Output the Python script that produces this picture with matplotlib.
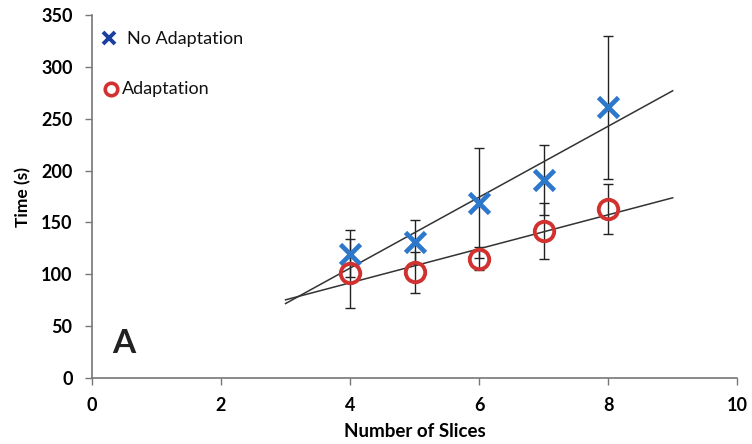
import numpy as np
import matplotlib
matplotlib.use('Agg')
import matplotlib.pyplot as plt

# Datos
slices = [4, 5, 6, 7, 8]
no_adapt = [120, 131, 169, 191, 261]
no_adapt_err = [23, 21, 53, 34, 69]
adapt = [101, 102, 115, 142, 163]
adapt_err = [33, 20, 11, 27, 24]
x_ticks = [0, 2, 4, 6, 8, 10]
y_ticks = [0, 50, 100, 150, 200, 250, 300, 350]
trend_range = [3, 9]

plt.rcParams['font.family'] = ['Lato', 'DejaVu Sans']

fig = plt.figure(figsize=(7.52, 4.44), dpi=100)
ax = fig.add_axes([0.1223, 0.1486, 0.858, 0.8174])

blue = '#2e78cc'
red = '#d2322f'

# Barras de error
ax.errorbar(slices, no_adapt, yerr=no_adapt_err, fmt='none', ecolor='#222222',
            elinewidth=1, capsize=3.5, capthick=1, zorder=2)
ax.errorbar(slices, adapt, yerr=adapt_err, fmt='none', ecolor='#222222',
            elinewidth=1, capsize=3.5, capthick=1, zorder=2)

# Líneas de tendencia (regresión lineal)
xs = np.array(trend_range)
for ys in (no_adapt, adapt):
    m, b = np.polyfit(slices, ys, 1)
    ax.plot(xs, m * xs + b, color='#333333', lw=1.1, zorder=3)

# Puntos
ax.plot(slices, no_adapt, 'x', color=blue, ms=14, mew=3.4, zorder=4)
ax.plot(slices, adapt, 'o', mfc='none', mec=red, ms=14, mew=2.8, zorder=4)

# Leyenda manual
ax.plot([0.27], [328], 'x', color='#1b3f9e', ms=8, mew=2.8, clip_on=False)
ax.text(0.55, 327, 'No Adaptation', fontsize=13, va='center', color='#111111')
ax.plot([0.3], [279], 'o', mfc='none', mec=red, ms=9, mew=2.6, clip_on=False)
ax.text(0.46, 279, 'Adaptation', fontsize=13, va='center', color='#111111')

ax.text(0.5, 33, 'A', fontsize=24, fontweight='bold', ha='center', va='center',
        color='#222222')

ax.set_xlim(0, 10)
ax.set_ylim(0, 350)
ax.set_xticks(x_ticks)
ax.set_yticks(y_ticks)
for lbl in ax.get_xticklabels() + ax.get_yticklabels():
    lbl.set_fontweight('bold')
    lbl.set_fontsize(13)
ax.tick_params(direction='out', length=5, width=1, color='#777777')
ax.tick_params(axis='x', pad=9)
ax.tick_params(axis='y', pad=9)
ax.set_xlabel('Number of Slices', fontsize=13.5, fontweight='bold', labelpad=6)
ax.set_ylabel('Time (s)', fontsize=12.5, fontweight='bold', labelpad=7)
for s in ['top', 'right']:
    ax.spines[s].set_visible(False)
for s in ['left', 'bottom']:
    ax.spines[s].set_color('#777777')
    ax.spines[s].set_linewidth(1.2)

fig.savefig('out.png', dpi=100)
